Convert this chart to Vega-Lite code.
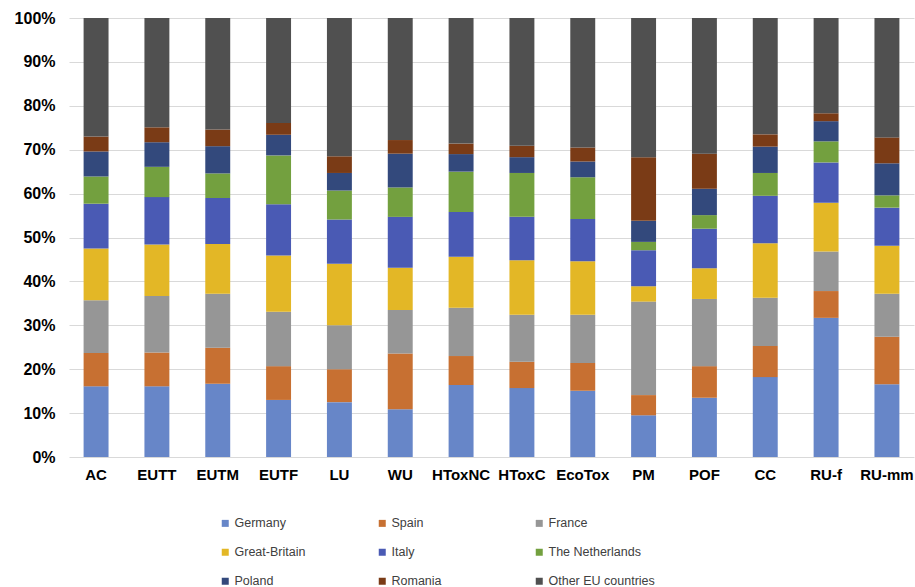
{
  "$schema": "https://vega.github.io/schema/vega-lite/v6.json",
  "width": 845,
  "height": 439,
  "autosize": "none",
  "padding": {"left": 69, "top": 18, "right": 1, "bottom": 130},
  "background": "white",
  "datasets": {
    "impacts": [
      {"cat": "AC", "Germany": 16.1, "Spain": 7.6, "France": 12.0, "Great-Britain": 11.8, "Italy": 10.2, "The Netherlands": 6.2, "Poland": 5.7, "Romania": 3.4, "Other EU countries": 27.0},
      {"cat": "EUTT", "Germany": 16.1, "Spain": 7.7, "France": 12.9, "Great-Britain": 11.7, "Italy": 10.8, "The Netherlands": 6.9, "Poland": 5.6, "Romania": 3.4, "Other EU countries": 24.9},
      {"cat": "EUTM", "Germany": 16.7, "Spain": 8.2, "France": 12.3, "Great-Britain": 11.3, "Italy": 10.5, "The Netherlands": 5.6, "Poland": 6.2, "Romania": 3.8, "Other EU countries": 25.4},
      {"cat": "EUTF", "Germany": 13.0, "Spain": 7.7, "France": 12.4, "Great-Britain": 12.8, "Italy": 11.7, "The Netherlands": 11.1, "Poland": 4.7, "Romania": 2.7, "Other EU countries": 23.9},
      {"cat": "LU", "Germany": 12.5, "Spain": 7.5, "France": 10.0, "Great-Britain": 14.0, "Italy": 10.1, "The Netherlands": 6.6, "Poland": 4.0, "Romania": 3.8, "Other EU countries": 31.5},
      {"cat": "WU", "Germany": 10.9, "Spain": 12.7, "France": 9.9, "Great-Britain": 9.6, "Italy": 11.6, "The Netherlands": 6.7, "Poland": 7.7, "Romania": 3.1, "Other EU countries": 27.8},
      {"cat": "HToxNC", "Germany": 16.4, "Spain": 6.6, "France": 11.0, "Great-Britain": 11.6, "Italy": 10.2, "The Netherlands": 9.2, "Poland": 4.0, "Romania": 2.4, "Other EU countries": 28.6},
      {"cat": "HToxC", "Germany": 15.7, "Spain": 6.0, "France": 10.7, "Great-Britain": 12.4, "Italy": 9.9, "The Netherlands": 10.0, "Poland": 3.6, "Romania": 2.6, "Other EU countries": 29.1},
      {"cat": "EcoTox", "Germany": 15.1, "Spain": 6.3, "France": 11.0, "Great-Britain": 12.2, "Italy": 9.6, "The Netherlands": 9.5, "Poland": 3.6, "Romania": 3.2, "Other EU countries": 29.5},
      {"cat": "PM", "Germany": 9.5, "Spain": 4.6, "France": 21.3, "Great-Britain": 3.5, "Italy": 8.2, "The Netherlands": 1.9, "Poland": 4.8, "Romania": 14.5, "Other EU countries": 31.7},
      {"cat": "POF", "Germany": 13.5, "Spain": 7.2, "France": 15.3, "Great-Britain": 7.0, "Italy": 9.0, "The Netherlands": 3.1, "Poland": 6.0, "Romania": 8.0, "Other EU countries": 30.9},
      {"cat": "CC", "Germany": 18.2, "Spain": 7.1, "France": 11.0, "Great-Britain": 12.4, "Italy": 10.8, "The Netherlands": 5.2, "Poland": 6.0, "Romania": 2.8, "Other EU countries": 26.5},
      {"cat": "RU-f", "Germany": 31.7, "Spain": 6.1, "France": 9.0, "Great-Britain": 11.1, "Italy": 9.2, "The Netherlands": 4.8, "Poland": 4.6, "Romania": 1.8, "Other EU countries": 21.7},
      {"cat": "RU-mm", "Germany": 16.6, "Spain": 10.8, "France": 9.8, "Great-Britain": 10.9, "Italy": 8.7, "The Netherlands": 2.8, "Poland": 7.3, "Romania": 5.9, "Other EU countries": 27.2}
    ],
    "countries": [
      {"country": "Germany", "rank": 1},
      {"country": "Spain", "rank": 2},
      {"country": "France", "rank": 3},
      {"country": "Great-Britain", "rank": 4},
      {"country": "Italy", "rank": 5},
      {"country": "The Netherlands", "rank": 6},
      {"country": "Poland", "rank": 7},
      {"country": "Romania", "rank": 8},
      {"country": "Other EU countries", "rank": 9}
    ]
  },
  "data": {"name": "impacts"},
  "transform": [
    {"fold": ["Germany", "Spain", "France", "Great-Britain", "Italy", "The Netherlands", "Poland", "Romania", "Other EU countries"], "as": ["country", "share"]},
    {"lookup": "country", "from": {"data": {"name": "countries"}, "key": "country", "fields": ["rank"]}}
  ],
  "mark": {"type": "bar"},
  "encoding": {
    "x": {
      "field": "cat",
      "type": "nominal",
      "sort": null,
      "scale": {"paddingInner": 0.59, "paddingOuter": 0.24},
      "axis": {
        "title": null,
        "labelAngle": 0,
        "ticks": false,
        "domain": false,
        "labelFont": "Liberation Sans",
        "labelFontWeight": "bold",
        "labelFontSize": 15,
        "labelColor": "#000000",
        "labelPadding": 10
      }
    },
    "y": {
      "field": "share",
      "type": "quantitative",
      "stack": "normalize",
      "scale": {"domain": [0, 1]},
      "axis": {
        "title": null,
        "format": ".0%",
        "values": [0, 0.1, 0.2, 0.3, 0.4, 0.5, 0.6, 0.7, 0.8, 0.9, 1],
        "ticks": false,
        "domain": false,
        "grid": true,
        "gridColor": "#d9d9d9",
        "gridWidth": 1,
        "labelFont": "Liberation Sans",
        "labelFontWeight": "bold",
        "labelFontSize": 16,
        "labelColor": "#000000",
        "labelPadding": 14
      }
    },
    "color": {
      "field": "country",
      "type": "nominal",
      "scale": {
        "domain": ["Germany", "Spain", "France", "Great-Britain", "Italy", "The Netherlands", "Poland", "Romania", "Other EU countries"],
        "range": ["#6786c8", "#c77032", "#969696", "#e3b726", "#4a5ab4", "#73a03f", "#33497c", "#7a3b16", "#505050"]
      },
      "legend": {
        "title": null,
        "orient": "none",
        "legendX": 150,
        "legendY": 499,
        "direction": "horizontal",
        "columns": 3,
        "gridAlign": "all",
        "columnPadding": 35,
        "rowPadding": 16,
        "padding": 0,
        "symbolType": "square",
        "symbolSize": 49,
        "symbolStrokeWidth": 0,
        "labelOffset": 3,
        "labelFont": "Liberation Sans",
        "labelFontSize": 12.5,
        "labelColor": "#404040",
        "labelLimit": 200
      }
    },
    "order": {"field": "rank", "type": "quantitative", "sort": "ascending"}
  },
  "config": {
    "view": {"stroke": null}
  }
}
